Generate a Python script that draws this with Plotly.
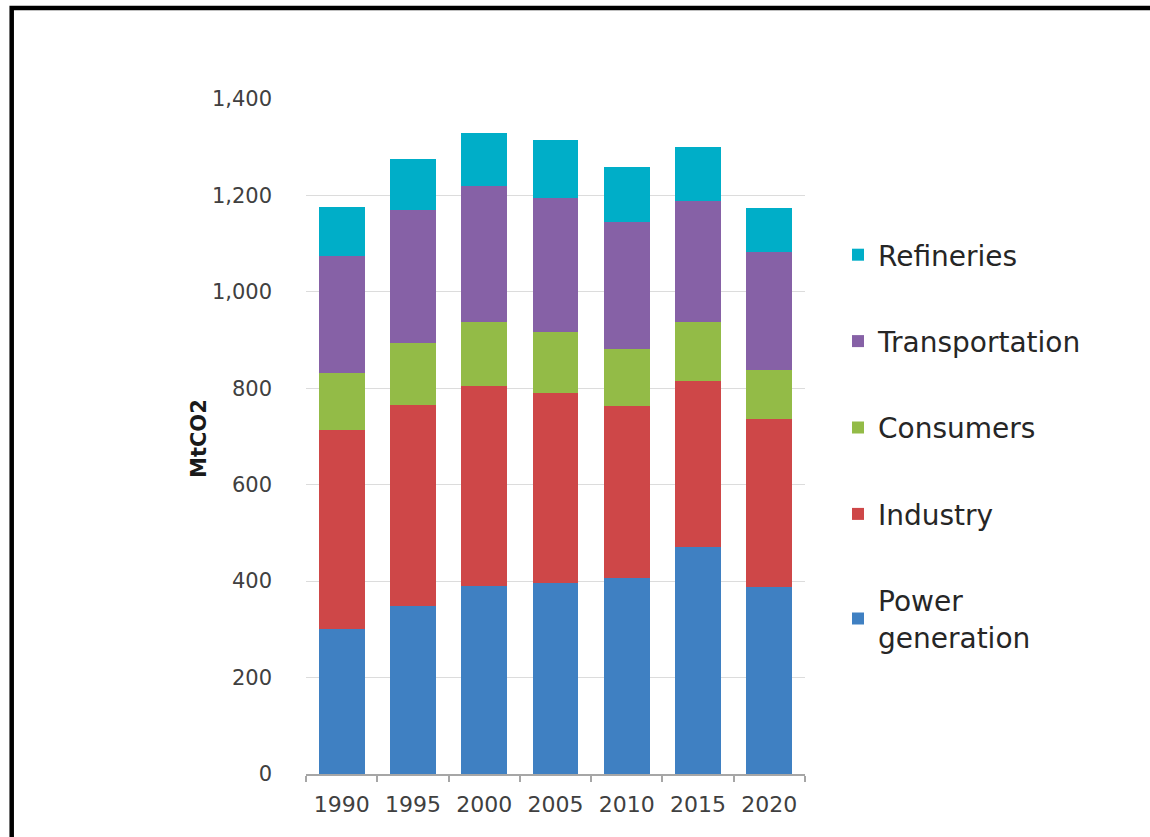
import plotly.graph_objects as go

years = ["1990", "1995", "2000", "2005", "2010", "2015", "2020"]
power = [300, 349, 390, 397, 407, 470, 387]
industry = [414, 416, 415, 393, 357, 346, 349]
consumers = [117, 128, 132, 127, 117, 121, 102]
transportation = [244, 277, 283, 278, 264, 251, 244]
refineries = [101, 105, 110, 120, 115, 113, 91]

series = [
    ("Power<br>generation", power, "#3F80C2"),
    ("Industry", industry, "#CE4748"),
    ("Consumers", consumers, "#93BB47"),
    ("Transportation", transportation, "#8661A6"),
    ("Refineries", refineries, "#00AEC8"),
]

FONT = "DejaVu Sans"

fig = go.Figure()
n = len(series)
for i, (name, vals, col) in enumerate(series):
    fig.add_trace(go.Bar(
        x=years, y=vals, name=name, marker_color=col,
        marker_line_width=0, legendgroup=name, legendrank=n - i,
    ))

W, H = 1150, 837
L, R, T, B = 306, 345, 99, 63
pw, ph = W - L - R, H - T - B

def px(x):
    return (x - L) / pw

def py(y):
    return (H - B - y) / ph

fig.update_layout(
    width=W, height=H,
    margin=dict(l=L, r=R, t=T, b=B, pad=0),
    barmode="stack", bargap=0.356,
    paper_bgcolor="white", plot_bgcolor="white",
    font=dict(family=FONT, color="#404040"),
    showlegend=True,
    legend=dict(
        x=px(838), y=py(230), xanchor="left", yanchor="top",
        font=dict(size=28, color="#262626", family=FONT),
        traceorder="grouped", tracegroupgap=47,
        bgcolor="rgba(0,0,0,0)",
    ),
    xaxis=dict(
        type="category", showgrid=False, showline=True,
        linecolor="#A6A6A6", linewidth=1.5,
        ticks="outside", tickson="boundaries", ticklen=6,
        tickcolor="#A6A6A6", tickwidth=1.5,
        tickfont=dict(size=22, color="#404040"),
        ticklabelstandoff=10,
    ),
    yaxis=dict(
        range=[0, 1400], dtick=200, tickformat=",",
        showgrid=True, gridcolor="#DCDCDC", gridwidth=1.2,
        zeroline=False, showline=False, ticks="",
        tickfont=dict(size=21, color="#404040"),
        ticklabelstandoff=33,
    ),
    annotations=[dict(
        text="<b>MtCO2</b>", x=px(185), y=py(439),
        xref="paper", yref="paper", showarrow=False,
        textangle=-90, font=dict(size=21, color="#1a1a1a", family=FONT),
    )],
    shapes=[dict(
        type="rect", xref="paper", yref="paper",
        x0=px(11.7), x1=px(1300), y0=py(900), y1=py(8),
        line=dict(color="black", width=4.5), fillcolor="rgba(0,0,0,0)",
        layer="above",
    )],
)

fig.write_html("out.html")
